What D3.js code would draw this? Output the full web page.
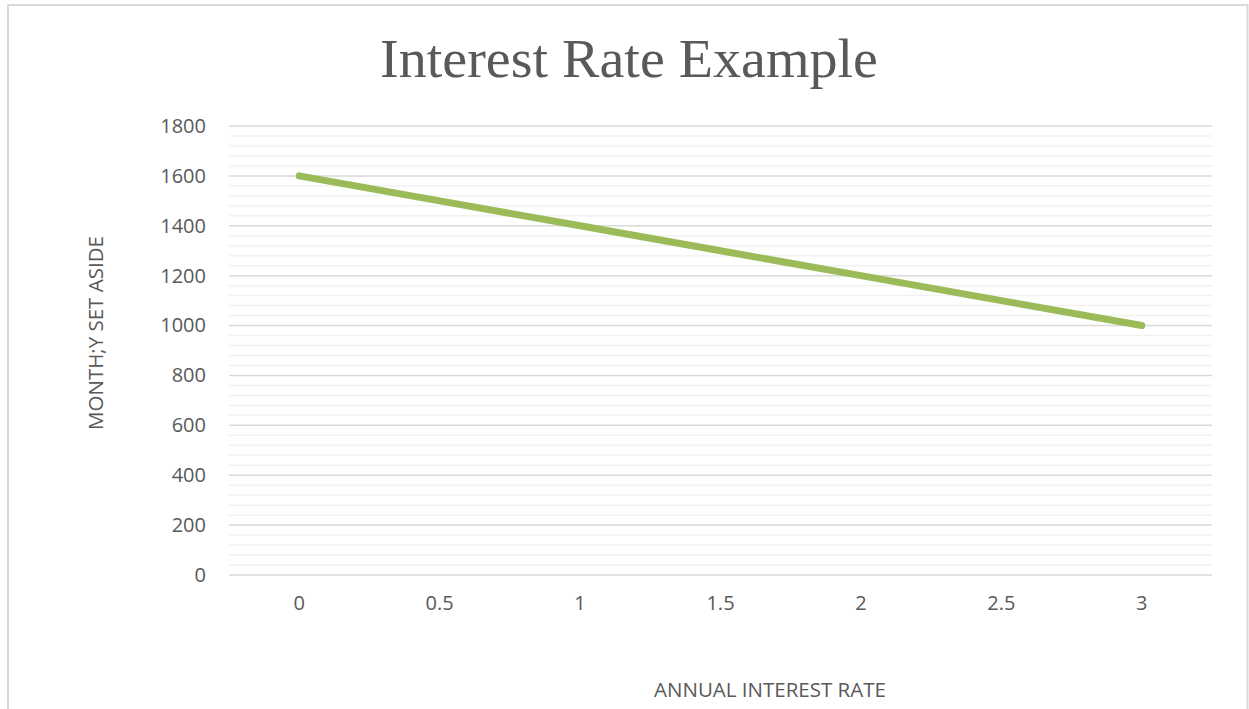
<!DOCTYPE html>
<html>
<head>
<meta charset="utf-8">
<script src="https://cdn.jsdelivr.net/npm/d3@7"></script>
<style>
  html, body {margin: 0; padding: 0; background: #fff;}
  svg {display: block;}
  text {fill: #595959;}
</style>
</head>
<body>
<div id="chart"></div>
<script>
// data
const categories = ["0", "0.5", "1", "1.5", "2", "2.5", "3"];
const monthly = [1600, 1500, 1400, 1300, 1200, 1100, 1000];
const y_ticks = [0, 200, 400, 600, 800, 1000, 1200, 1400, 1600, 1800];
const minor_ticks = d3.range(0, 1801, 40);

const title_text = "Interest Rate Example";
const x_title = "ANNUAL INTEREST RATE";
const y_title = "MONTH;Y SET ASIDE";


const w = 1249, h = 709;
const plot = {left: 229, right: 1212, top: 126, bottom: 575};
const sans = "'Open Sans', 'Noto Sans', sans-serif";

const svg = d3.select("#chart").append("svg").attr("width", w).attr("height", h);

// frame
svg.append("path")
    .attr("d", `M8,${h+5} V5 H1247.5 V${h+5}`)
    .attr("fill", "none")
    .attr("stroke", "#d9d9d9")
    .attr("stroke-width", 2);

// scales
const x = d3.scaleBand().domain(categories).range([plot.left, plot.right]);
const y = d3.scaleLinear().domain([0, 1800]).range([plot.bottom, plot.top]);

// minor gridlines
svg.append("g").selectAll("line").data(minor_ticks.filter(d => d % 200 !== 0)).enter().append("line")
    .attr("x1", plot.left).attr("x2", plot.right)
    .attr("y1", d => y(d)).attr("y2", d => y(d))
    .style("stroke", "#f2f2f2")
    .style("stroke-width", 1.5);

// major gridlines
svg.append("g").selectAll("line").data(y_ticks).enter().append("line")
    .attr("x1", plot.left).attr("x2", plot.right)
    .attr("y1", d => y(d)).attr("y2", d => y(d))
    .style("stroke", "#d9d9d9")
    .style("stroke-width", 1.5);

// axis_y
const axis_y = svg.append("g")
    .attr("transform", `translate(${plot.left}, 0)`)
    .call(d3.axisLeft(y).tickValues(y_ticks).tickFormat(d3.format("d")).tickSize(0).tickPadding(23));
axis_y.select(".domain").remove();
axis_y.selectAll("text")
    .style("font-family", sans)
    .style("font-size", "20px")
    .style("fill", "#595959");

// axis_x
const axis_x = svg.append("g")
    .attr("transform", `translate(0, ${plot.bottom})`)
    .call(d3.axisBottom(x).tickSize(0).tickPadding(21));
axis_x.select(".domain").remove();
axis_x.selectAll("text")
    .style("font-family", sans)
    .style("font-size", "20px")
    .style("fill", "#595959");

// line
const line = d3.line()
    .x((d, i) => x(categories[i]) + x.bandwidth() / 2)
    .y(d => y(d));

svg.append("path")
    .datum(monthly)
    .attr("d", line)
    .attr("fill", "none")
    .attr("stroke", "#9bbb59")
    .attr("stroke-width", 7)
    .attr("stroke-linecap", "round")
    .attr("stroke-linejoin", "round");

// titles
svg.append("text")
    .attr("x", 629).attr("y", 77)
    .attr("text-anchor", "middle")
    .attr("textLength", 498)
    .attr("lengthAdjust", "spacingAndGlyphs")
    .style("font-family", "'Liberation Serif', 'DejaVu Serif', serif")
    .style("font-size", "55px")
    .text(title_text);

svg.append("text")
    .attr("x", 770).attr("y", 697)
    .attr("text-anchor", "middle")
    .style("font-family", sans)
    .style("font-size", "20.5px")
    .text(x_title);

svg.append("text")
    .attr("transform", `translate(103, 333) rotate(-90)`)
    .attr("text-anchor", "middle")
    .style("font-family", sans)
    .style("font-size", "20.5px")
    .text(y_title);
</script>
</body>
</html>
